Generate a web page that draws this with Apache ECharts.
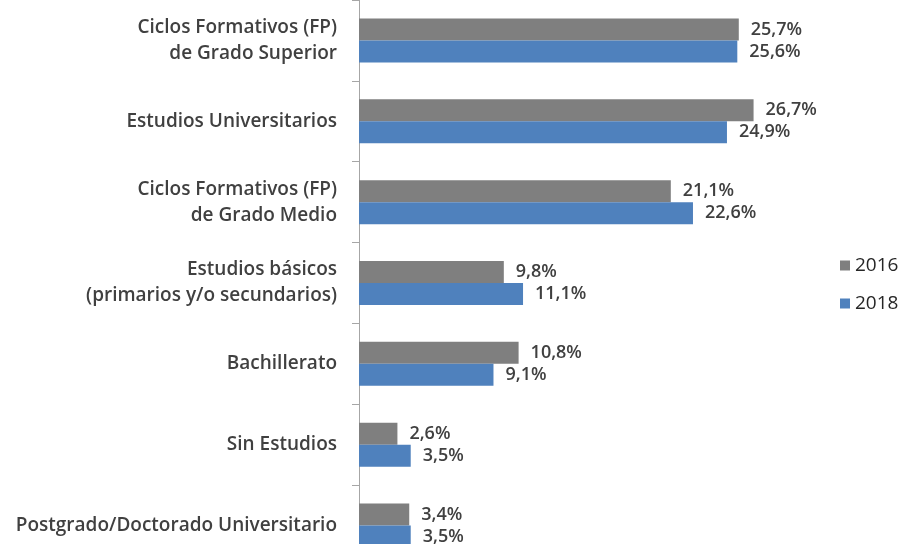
<!DOCTYPE html>
<html><head><meta charset="utf-8">
<script src="https://cdn.jsdelivr.net/npm/echarts@6/dist/echarts.min.js"></script>
<style>html,body{margin:0;padding:0;background:#fff;overflow:hidden;width:903px;height:544px}#c{width:903px;height:566px}</style>
</head><body><div id="c"></div>
<script>
const categories = ["Ciclos Formativos (FP)\nde Grado Superior","Estudios Universitarios","Ciclos Formativos (FP)\nde Grado Medio","Estudios básicos\n(primarios y/o secundarios)","Bachillerato","Sin Estudios","Postgrado/Doctorado Universitario"];
const values2016 = [25.7, 26.7, 21.1, 9.8, 10.8, 2.6, 3.4];
const values2018 = [25.6, 24.9, 22.6, 11.1, 9.1, 3.5, 3.5];
const seriesNames = ["2016","2018"];

const font = "'Open Sans', sans-serif";
const fmt = p => p.value.toFixed(1).replace('.', ',') + '%';
const chart = echarts.init(document.getElementById('c'));
chart.setOption({
  animation: false,
  grid: {left: 359, top: -1, width: 532, height: 567, containLabel: false},
  legend: {orient: 'vertical', left: 835, top: 251, itemWidth: 10, itemHeight: 10, itemGap: 19, icon: 'rect',
    textStyle: {fontFamily: font, fontSize: 19, color: '#262626'}, data: seriesNames},
  xAxis: {type: 'value', min: 0, max: 36, show: false},
  yAxis: {type: 'category', inverse: true, data: categories,
    axisLine: {show: true, lineStyle: {color: '#a6a6a6', width: 1}},
    axisTick: {show: true, length: 7, lineStyle: {color: '#a6a6a6'}},
    axisLabel: {margin: 22, fontFamily: font, fontSize: 19, fontWeight: 600, color: '#404040', lineHeight: 26, align: 'right'}},
  series: [
    {name: seriesNames[0], type: 'bar', data: values2016, barWidth: 22, barGap: '0%',
     itemStyle: {color: '#7f7f7f'},
     label: {show: true, position: 'right', distance: 12, formatter: fmt, fontFamily: font, fontSize: 18, fontWeight: 600, color: '#404040'}},
    {name: seriesNames[1], type: 'bar', data: values2018, barWidth: 22,
     itemStyle: {color: '#4f81bd'},
     label: {show: true, position: 'right', distance: 12, formatter: fmt, fontFamily: font, fontSize: 18, fontWeight: 600, color: '#404040'}}
  ]
});
</script></body></html>
